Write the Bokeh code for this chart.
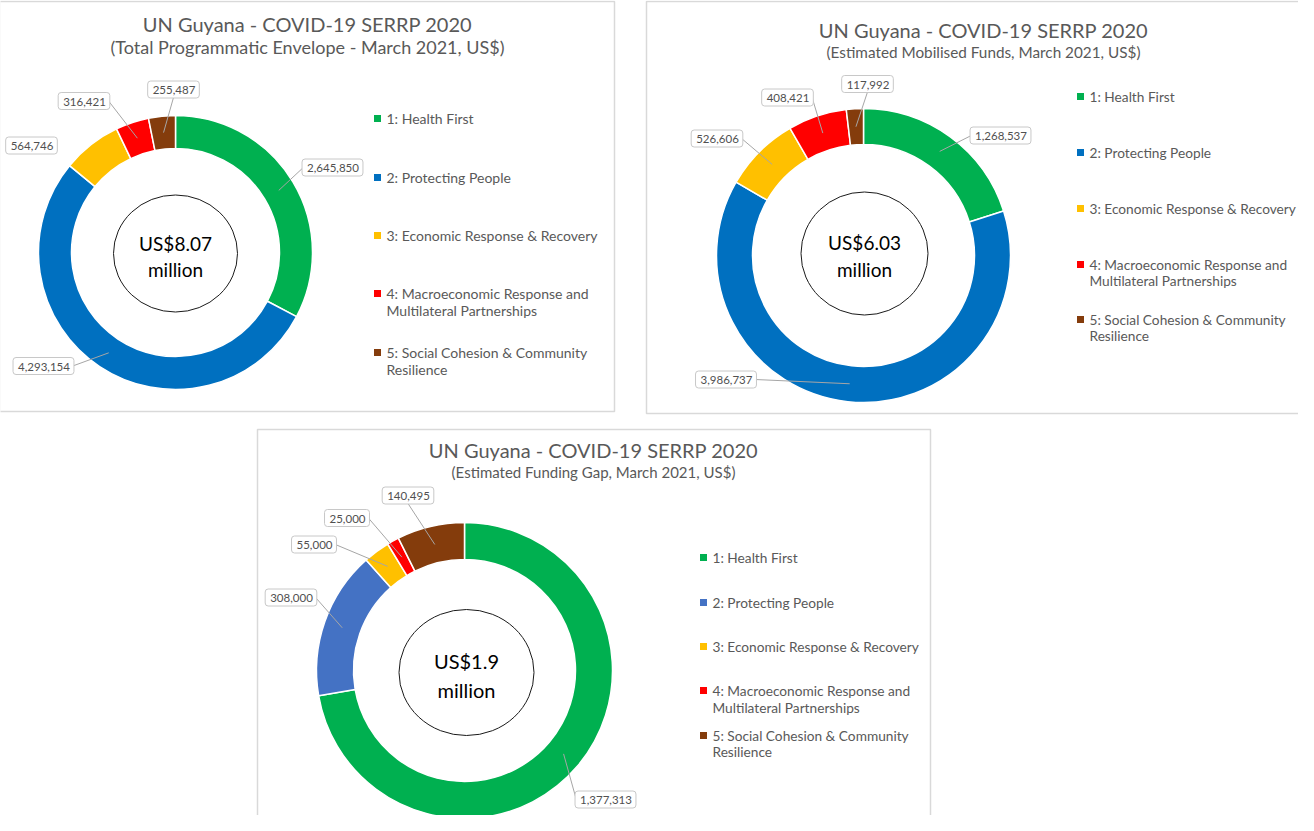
import math
from bokeh.plotting import figure
from bokeh.models import Range1d
from bokeh.embed import file_html
from bokeh.resources import INLINE
from bokeh.core.properties import value

# ---------------- data ----------------
legend_lines = [
    ["1: Health First"],
    ["2: Protecting People"],
    ["3: Economic Response & Recovery"],
    ["4: Macroeconomic Response and", "Multilateral Partnerships"],
    ["5: Social Cohesion & Community", "Resilience"],
]
total_envelope = [2645850, 4293154, 564746, 316421, 255487]
mobilised_funds = [1268537, 3986737, 526606, 408421, 117992]
funding_gap = [1377313, 308000, 55000, 25000, 140495]

colors_main = ["#00B050", "#0070C0", "#FFC000", "#FF0000", "#843C0C"]
colors_gap = ["#00B050", "#4472C4", "#FFC000", "#FF0000", "#843C0C"]

titles = ["UN Guyana - COVID-19 SERRP 2020"] * 3
subtitles = [
    "(Total Programmatic Envelope - March 2021, US$)",
    "(Estimated Mobilised Funds, March 2021, US$)",
    "(Estimated Funding Gap, March 2021, US$)",
]
center_texts = [["US$8.07", "million"], ["US$6.03", "million"], ["US$1.9", "million"]]

# ---------------- layout (page pixel coordinates) ----------------
W, H = 1298, 815
FONT = "Lato"
GRAY = "#595959"

def X(px):
    return px - 8

def Y(py):
    return H + 8 - py

panels = [
    dict(values=total_envelope, colors=colors_main,
         box=(7, 9, 622, 419), title=(315, 31, "20px"), sub=(315, 54, "18px"),
         c=(183, 260), ro=137, ri=104, ell=(183, 261, 124, 117), ctext=(251, 277, "19px"),
         mx=385, tx=394, lfs="14px", ly=[[126], [185], [243], [301, 318], [360, 377]],
         lab=[(340, 175), (51, 373.5), (39, 153), (91.5, 108.5), (181, 97)],
         leader=[1, 1, 0, 1, 1]),
    dict(values=mobilised_funds, colors=colors_main,
         box=(654, 9, 1330, 421), title=(991, 37, "20px"), sub=(991, 59, "15.3px"),
         c=(871, 263), ro=147, ri=111, ell=(872, 261, 127, 123), ctext=(250, 277, "19px"),
         mx=1088, tx=1097, lfs="13.7px", ly=[[104], [160], [216], [272, 288], [327, 343]],
         lab=[(1008, 143), (733.5, 387), (724.5, 146), (795, 105), (875, 91.5)],
         leader=[1, 1, 1, 1, 1]),
    dict(values=funding_gap, colors=colors_gap,
         box=(265, 437, 938, 900), title=(601, 457, "20px"), sub=(601, 479, "15px"),
         c=(472, 678), ro=148, ri=111, ell=(474, 680, 135, 126), ctext=(668, 697, "20px"),
         mx=711, tx=720, lfs="13.7px", ly=[[565], [610], [654], [698, 715], [743, 759]],
         lab=[(613, 807), (298.5, 605), (321.5, 552), (354.5, 525.5), (415.5, 503)],
         leader=[1, 1, 1, 1, 1]),
]

p = figure(width=W, height=H, x_range=Range1d(0, W), y_range=Range1d(0, H),
           x_axis_type=None, y_axis_type=None, toolbar_location=None,
           output_backend="svg", min_border=0)
p.grid.visible = False
p.outline_line_color = None
p.background_fill_color = "white"
p.border_fill_color = "white"

for k, pn in enumerate(panels):
    l, t, r, b = pn["box"]
    p.quad(left=[X(l)], right=[X(r)], top=[Y(t)], bottom=[Y(b)],
           fill_color=None, line_color="#d9d9d9", line_width=1.5)

    vals = pn["values"]
    tot = float(sum(vals))
    cx, cy = pn["c"]
    starts, ends, mids = [], [], []
    cum = 0.0
    for v in vals:
        f0 = cum / tot
        cum += v
        f1 = cum / tot
        starts.append(math.pi / 2 - 2 * math.pi * f0)
        ends.append(math.pi / 2 - 2 * math.pi * f1)
        mids.append((f0 + f1) / 2)
    p.annular_wedge(x=[X(cx)] * len(vals), y=[Y(cy)] * len(vals),
                    inner_radius=pn["ri"], outer_radius=pn["ro"],
                    start_angle=starts, end_angle=ends, direction="clock",
                    fill_color=pn["colors"], line_color="white", line_width=1.5)

    ex, ey, ew, eh = pn["ell"]
    p.ellipse(x=[X(ex)], y=[Y(ey)], width=ew, height=eh,
              fill_color=None, line_color="#1a1a1a", line_width=1)
    y1, y2, fs = pn["ctext"]
    p.text(x=[X(ex), X(ex)], y=[Y(y1), Y(y2)], text=center_texts[k],
           text_align="center", text_baseline="middle", text_color="black",
           text_font=value(FONT), text_font_size=fs)

    # data labels with leader lines
    rm = (pn["ri"] + pn["ro"]) / 2
    x0s, y0s, x1s, y1s = [], [], [], []
    lx, lyy, ltxt = [], [], []
    for i, v in enumerate(vals):
        s = f"{v:,}"
        bx, by = pn["lab"][i]
        ang = 2 * math.pi * mids[i]
        sx = cx + rm * math.sin(ang)
        sy = cy - rm * math.cos(ang)
        nd = sum(ch.isdigit() for ch in s)
        nc = s.count(",")
        hw = (nd * 6.4 + nc * 2.8) / 2 + 4
        hh = 8
        cands = [(bx - hw, by), (bx + hw, by), (bx, by - hh), (bx, by + hh)]
        ex0, ey0 = min(cands, key=lambda q: (q[0] - sx) ** 2 + (q[1] - sy) ** 2)
        if pn["leader"][i]:
            x0s.append(X(sx)); y0s.append(Y(sy)); x1s.append(X(ex0)); y1s.append(Y(ey0))
        lx.append(X(bx)); lyy.append(Y(by)); ltxt.append(s)
    p.segment(x0=x0s, y0=y0s, x1=x1s, y1=y1s, line_color="#a6a6a6", line_width=1)
    p.text(x=lx, y=lyy, text=ltxt, text_align="center", text_baseline="middle",
           text_color="#505050", text_font=value(FONT), text_font_size="11.5px",
           background_fill_color="white", border_line_color="#c8c8c8",
           border_line_width=1, padding=[5, 4, 5, 4], border_radius=3)

    # titles
    tx_, ty_, tfs = pn["title"]
    p.text(x=[X(tx_)], y=[Y(ty_)], text=[titles[k]], text_align="center",
           text_baseline="middle", text_color=GRAY, text_font=value(FONT), text_font_size=tfs)
    sx_, sy_, sfs = pn["sub"]
    p.text(x=[X(sx_)], y=[Y(sy_)], text=[subtitles[k]], text_align="center",
           text_baseline="middle", text_color=GRAY, text_font=value(FONT), text_font_size=sfs)

    # legend
    mxs, mys, tys, txs, tts = [], [], [], [], []
    for i, lines in enumerate(legend_lines):
        ys = pn["ly"][i]
        mxs.append(X(pn["mx"])); mys.append(Y(ys[0]))
        for j, line in enumerate(lines):
            txs.append(X(pn["tx"])); tys.append(Y(ys[j])); tts.append(line)
    p.scatter(x=mxs, y=mys, marker="square", size=7, fill_color=pn["colors"], line_color=None)
    p.text(x=txs, y=tys, text=tts, text_align="left", text_baseline="middle",
           text_color=GRAY, text_font=value(FONT), text_font_size=pn["lfs"])

open("out.html", "w").write(file_html(p, INLINE))
